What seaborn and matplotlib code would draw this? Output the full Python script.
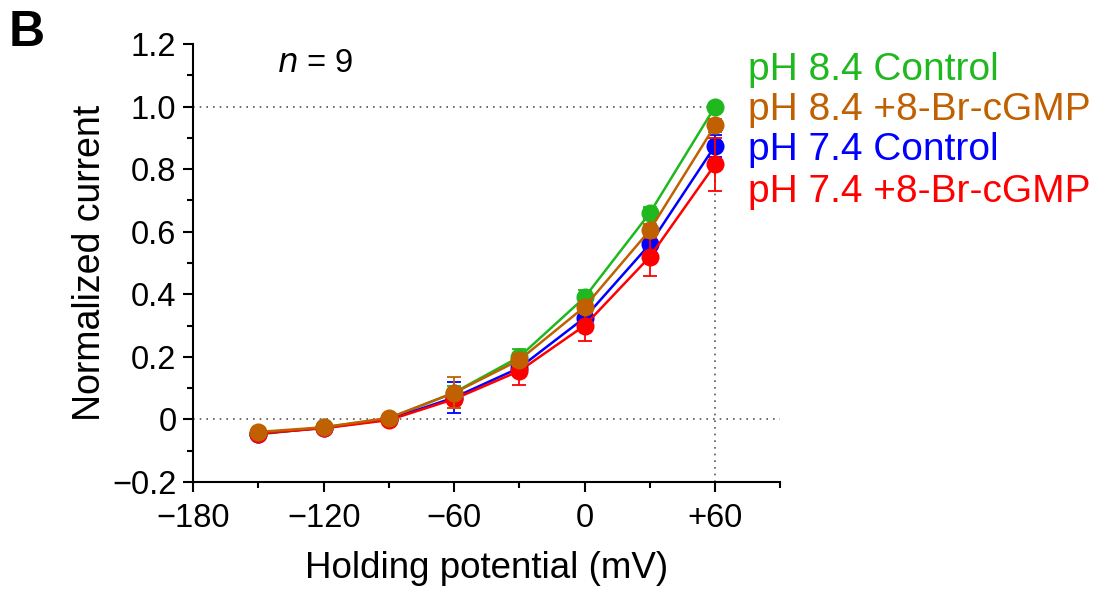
import numpy as np
import pandas as pd
import matplotlib
matplotlib.use("Agg")
import matplotlib.pyplot as plt
import seaborn as sns
from matplotlib.ticker import FixedLocator

potential = [-150, -120, -90, -60, -30, 0, 30, 60]
series_names = ["pH 8.4 Control", "pH 8.4 +8-Br-cGMP", "pH 7.4 Control", "pH 7.4 +8-Br-cGMP"]
ph84_control = [-0.048, -0.025, 0.003, 0.086, 0.200, 0.390, 0.660, 1.000]
ph84_cgmp = [-0.040, -0.025, 0.005, 0.085, 0.190, 0.360, 0.605, 0.940]
ph74_control = [-0.045, -0.027, 0.000, 0.070, 0.165, 0.325, 0.560, 0.875]
ph74_cgmp = [-0.045, -0.028, -0.002, 0.065, 0.155, 0.300, 0.520, 0.815]
err_84c = [0.005, 0.005, 0.005, 0.02, 0.025, 0.025, 0.02, 0.01]
err_84g = [0.005, 0.005, 0.005, 0.05, 0.02, 0.02, 0.02, 0.02]
err_74c = [0.005, 0.005, 0.005, 0.05, 0.02, 0.025, 0.03, 0.035]
err_74g = [0.005, 0.005, 0.005, 0.03, 0.045, 0.05, 0.06, 0.085]
colors = ["#1FB81F", "#C06000", "#0000FF", "#FF0000"]
x_ticks = [-180, -120, -60, 0, 60]
x_tick_labels = ["\u2212180", "\u2212120", "\u221260", "0", "+60"]
y_ticks = [-0.2, 0, 0.2, 0.4, 0.6, 0.8, 1.0, 1.2]
y_tick_labels = ["\u22120.2", "0", "0.2", "0.4", "0.6", "0.8", "1.0", "1.2"]

values = [ph84_control, ph84_cgmp, ph74_control, ph74_cgmp]
errors = [err_84c, err_84g, err_74c, err_74g]

rows = []
for name, vals, errs in zip(series_names, values, errors):
    for xv, yv, ev in zip(potential, vals, errs):
        rows.append({"x": xv, "y": yv, "err": ev, "series": name})
df = pd.DataFrame(rows)

sns.set_style("ticks")
plt.rcParams["font.family"] = ["Liberation Sans", "DejaVu Sans"]
plt.rcParams["text.color"] = "black"
plt.rcParams["axes.labelcolor"] = "black"
plt.rcParams["xtick.color"] = "black"
plt.rcParams["ytick.color"] = "black"

fig = plt.figure(figsize=(11.1, 5.91), dpi=100)
ax = fig.add_axes([0.174, 0.1844, 0.529, 0.7411])

# reference lines
ax.axhline(0, color="#555555", lw=1.2, ls=(0, (1, 3)), zorder=0)
ax.plot([-180, 60], [1.0, 1.0], color="#555555", lw=1.2, ls=(0, (1, 3)), zorder=0)
ax.plot([60, 60], [-0.2, 1.0], color="#555555", lw=1.2, ls=(0, (1, 3)), zorder=0)

draw_order = [0, 2, 3, 1]
for k, i in enumerate(draw_order):
    name = series_names[i]
    sub = df[df["series"] == name]
    ax.errorbar(sub["x"], sub["y"], yerr=sub["err"], fmt="none",
                ecolor=colors[i], elinewidth=1.3, capsize=5, capthick=1.3, zorder=2 + k)
    sns.lineplot(data=sub, x="x", y="y", color=colors[i], marker="o",
                 markersize=13, markeredgewidth=0, lw=1.8, ax=ax,
                 errorbar=None, zorder=2 + k + 0.5, legend=False)

ax.set_xlim(-180, 90)
ax.set_ylim(-0.2, 1.2)
ax.xaxis.set_major_locator(FixedLocator(x_ticks))
ax.set_xticklabels(x_tick_labels)
ax.xaxis.set_minor_locator(FixedLocator([-150, -90, -30, 30, 90]))
ax.yaxis.set_major_locator(FixedLocator(y_ticks))
ax.set_yticklabels(y_tick_labels)
ax.yaxis.set_minor_locator(FixedLocator([-0.1, 0.1, 0.3, 0.5, 0.7, 0.9, 1.1]))
ax.tick_params(which="major", length=7, width=1.5, labelsize=23.5, pad=5, color="black",
               labelcolor="black")
ax.tick_params(axis="x", which="major", pad=8)
ax.tick_params(which="minor", length=4.5, width=1.5, color="black")
for s in ["top", "right"]:
    ax.spines[s].set_visible(False)
for s in ["left", "bottom"]:
    ax.spines[s].set_linewidth(1.5)
    ax.spines[s].set_color("black")

ax.set_xlabel("Holding potential (mV)", fontsize=26.5, labelpad=12, color="black")
ax.set_ylabel("Normalized current", fontsize=27, labelpad=3, color="black")

ax.text(0.208, 0.955, "$\\it{n}$ = 9", transform=ax.transAxes, fontsize=23.5,
        ha="center", va="center", color="black")
fig.text(0.008, 0.945, "B", fontsize=36, fontweight="bold", ha="left", va="center",
         color="black")

legend_y = [70, 110, 150, 192]
for name, c, yp in zip(series_names, colors, legend_y):
    fig.text(748 / 1110, 1 - yp / 591, name, color=c, fontsize=28, ha="left", va="center")

fig.savefig("out.png", dpi=100)
